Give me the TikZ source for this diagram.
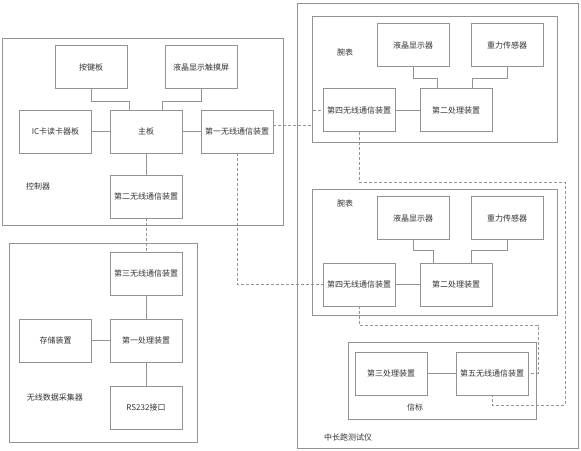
\documentclass[tikz,border=0pt]{standalone}
\usepackage{fontspec}
\setmainfont{Noto Sans CJK SC}
\usetikzlibrary{positioning,calc}

\begin{document}
\begin{tikzpicture}[x=1pt,y=-1pt,
  box/.style={draw=gray!85,line width=.6pt,minimum width=72pt,minimum height=43pt,inner sep=0pt,font=\fontsize{8}{9}\selectfont,text=black!80},
  grp/.style={draw=gray!85,line width=.6pt},
  wire/.style={gray!85,line width=.6pt},
  radio/.style={gray!85,line width=.6pt,dash pattern=on 3pt off 2pt},
  lbl/.style={font=\fontsize{8}{9}\selectfont,text=black!80}]
  \useasboundingbox (0,0) rectangle (581,450);
  % controller
  \draw[grp] (2,38) rectangle (283,225);
  \node[box] (keypad) at (91,67) {按键板};
  \node[box] (touch) at (201,67) {液晶显示触摸屏};
  \node[box] (icread) at (55.5,131.5) {IC卡读卡器板};
  \node[box] (mainbd) at (146,131.5) {主板};
  \node[box] (wlone) at (237,131.5) {第一无线通信装置};
  \node[box] (wltwo) at (146,196.5) {第二无线通信装置};
  \node[lbl] (ctrl) at (38,186) {控制器};
  \draw[wire] (keypad.south) -- ++(0,12) -| ([xshift=-17pt]mainbd.north);
  \draw[wire] (touch.south) -- ++(0,12) -| ([xshift=16pt]mainbd.north);
  \draw[wire] (icread) -- (mainbd);
  \draw[wire] (mainbd) -- (wlone);
  \draw[wire] (mainbd) -- (wltwo);
  % data collector
  \draw[grp] (9,243) rectangle (197,442);
  \node[box] (wlthree) at (146,273.5) {第三无线通信装置};
  \node[box] (procone) at (146,340.5) {第一处理装置};
  \node[box] (store) at (55.5,340.5) {存储装置};
  \node[box] (rsport) at (146,407.5) {RS232接口};
  \node[lbl] (coll) at (55,397) {无线数据采集器};
  \draw[wire] (wlthree) -- (procone);
  \draw[wire] (store) -- (procone);
  \draw[wire] (procone) -- (rsport);
  % tester
  \draw[grp] (297,3) rectangle (578,448);
  \node[lbl] (tester) at (348,437) {中长跑测试仪};
  % watch 1
  \draw[grp] (312,16) rectangle (557,142);
  \node[lbl] (watcha) at (345,52) {腕表};
  \node[box] (lcda) at (413,45) {液晶显示器};
  \node[box] (grava) at (507,45) {重力传感器};
  \node[box] (wlfoura) at (359,110) {第四无线通信装置};
  \node[box] (proctwoa) at (456,110) {第二处理装置};
  \draw[wire] (lcda.south) -- ++(0,11) -| ([xshift=-19pt]proctwoa.north);
  \draw[wire] (grava.south) -- ++(0,11) -| ([xshift=16pt]proctwoa.north);
  \draw[wire] (wlfoura) -- (proctwoa);
  % watch 2
  \draw[grp] (312,189) rectangle (557,315);
  \node[lbl] (watchb) at (345,203) {腕表};
  \node[box] (lcdb) at (413,218) {液晶显示器};
  \node[box] (gravb) at (507,218) {重力传感器};
  \node[box] (wlfourb) at (359,284.5) {第四无线通信装置};
  \node[box] (proctwob) at (456,284.5) {第二处理装置};
  \draw[wire] (lcdb.south) -- ++(0,10) -| ([xshift=-23pt]proctwob.north);
  \draw[wire] (gravb.south) -- ++(0,10) -| ([xshift=15pt]proctwob.north);
  \draw[wire] (wlfourb) -- (proctwob);
  % beacon
  \draw[grp] (348,342) rectangle (536,419);
  \node[lbl] (beacon) at (415,407) {信标};
  \node[box] (procthree) at (391,373.5) {第三处理装置};
  \node[box] (wlfive) at (492,373.5) {第五无线通信装置};
  \draw[wire] (procthree) -- (wlfive);
  % wireless links
  \coordinate (kinka) at (312,125.5);
  \coordinate (loopt) at (565,182);
  \coordinate (loopb) at (565,405);
  \coordinate (loopc) at (538,325);
  \draw[radio] (wltwo) -- (wlthree);
  \draw[radio] ([yshift=6pt]wlone.east) -- (kinka) |- (wlfoura.west);
  \draw[radio] (wlone.south) |- (wlfourb.west);
  \draw[radio] (wlfoura.south) |- (loopt) -- (loopb) -| (wlfive.south);
  \draw[radio] (wlfourb.south) |- (loopc) |- (wlfive.east);
\end{tikzpicture}
\end{document}
